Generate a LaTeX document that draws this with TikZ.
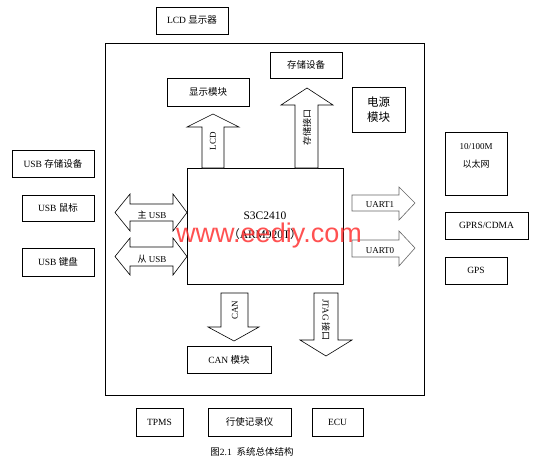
\documentclass[tikz,border=0pt]{standalone}
\usepackage{fontspec}
\setmainfont{Liberation Serif}
\newfontfamily\cjk{Noto Sans CJK SC}
\newfontfamily\wmfont{Liberation Sans}
\begin{document}
\begin{tikzpicture}[x=1pt,y=-1pt,
  box/.style={draw, line width=0.7pt, inner sep=0pt, font=\fontsize{9.5}{11}\selectfont, align=center},
  blk/.style={draw, line width=0.6pt, fill=white},
  gblk/.style={draw=black!60, line width=0.6pt, fill=white},
  lbl/.style={font=\fontsize{9}{10}\selectfont, inner sep=0pt}]
\useasboundingbox (0,0) rectangle (537,465);
\fill[white] (0,0) rectangle (537,465);

% outer frame
\node[box, minimum width=319pt, minimum height=352pt] (outer) at (264.5,219) {};

% boxes
\node[box, minimum width=72pt, minimum height=27pt] (lcd) at (192,20.5) {LCD {\cjk 显示器}};
\node[box, minimum width=72pt, minimum height=26pt] (store) at (306,65) {\cjk 存储设备};
\node[box, minimum width=82pt, minimum height=28pt] (disp) at (208,92) {\cjk 显示模块};
\node[box, minimum width=53pt, minimum height=45pt, font=\fontsize{11.5}{15}\selectfont\cjk] (power) at (378.5,109.5) {电源\\模块};
\node[box, minimum width=156pt, minimum height=116pt, font=\fontsize{11.5}{19}\selectfont] (chip) at (265,226) {S3C2410\\{\cjk （}ARM920T{\cjk ）}};
\node[box, minimum width=82pt, minimum height=27pt] (usbs) at (53,163.5) {USB {\cjk 存储设备}};
\node[box, minimum width=72pt, minimum height=26pt] (usbm) at (58,208) {USB {\cjk 鼠标}};
\node[box, minimum width=72pt, minimum height=28pt] (usbk) at (58,262) {USB {\cjk 键盘}};
\node[box, minimum width=62pt, minimum height=63pt] (eth) at (476,163.5) {};
\node[lbl] (ethA) at (476,147) {10/100M};
\node[lbl] (ethB) at (476,164) {\cjk 以太网};
\node[box, minimum width=83pt, minimum height=27pt] (gprs) at (486.5,225.5) {GPRS/CDMA};
\node[box, minimum width=62pt, minimum height=27pt] (gps) at (476,270.5) {GPS};
\node[box, minimum width=84pt, minimum height=27pt] (can) at (229,359.5) {CAN {\cjk 模块}};
\node[box, minimum width=47pt, minimum height=28pt] (tpms) at (159.5,422) {TPMS};
\node[box, minimum width=83pt, minimum height=28pt] (rec) at (249.5,422) {\cjk 行使记录仪};
\node[box, minimum width=51pt, minimum height=28pt] (ecu) at (337.5,422) {ECU};
\node[lbl, font=\fontsize{9.5}{10}\selectfont] (cap) at (252,452) {{\cjk 图}2.1\ \ {\cjk 系统总体结构}};

% LCD up arrow
\draw[blk] (202,168) -- (202,127) -- (187,127) -- (213,114) -- (239,127) -- (224,127) -- (224,168) -- cycle;
\node[lbl, rotate=90] (lcdl) at (213,141) {LCD};
% storage interface up arrow
\draw[blk] (295,168) -- (295,105) -- (281,105) -- (307,88) -- (333,105) -- (318,105) -- (318,168) -- cycle;
\node[lbl, rotate=90] (stl) at (307,128) {\cjk 存储接口};

% USB double arrows
\draw[blk] (115,212.5) -- (130,194) -- (130,204) -- (173,204) -- (173,194) -- (187,212.5) -- (173,231) -- (173,221) -- (130,221) -- (130,231) -- cycle;
\node[lbl] (musb) at (152,215) {{\cjk 主} USB};
\draw[blk] (115,256.5) -- (130,238) -- (130,247) -- (173,247) -- (173,238) -- (187,256.5) -- (173,275) -- (173,266) -- (130,266) -- (130,275) -- cycle;
\node[lbl] (susb) at (152,259) {{\cjk 从} USB};

% UART arrows
\draw[gblk] (352,195) -- (399,195) -- (399,187) -- (415,203) -- (399,220) -- (399,211) -- (352,211) -- cycle;
\node[lbl] (u1) at (380,205) {UART1};
\draw[gblk] (352,240) -- (399,240) -- (399,231) -- (415,248) -- (399,266) -- (399,257) -- (352,257) -- cycle;
\node[lbl] (u0) at (380,251) {UART0};

% CAN down arrow
\draw[blk] (221,293) -- (248,293) -- (248,327) -- (259,327) -- (234,341) -- (208,327) -- (221,327) -- cycle;
\node[lbl, rotate=90] (canl) at (235,310) {CAN};
% JTAG down arrow
\draw[blk] (314,293) -- (338,293) -- (338,340) -- (352,340) -- (326,356) -- (300,340) -- (314,340) -- cycle;
\node[lbl, rotate=-90] (jtl) at (326,320) {JTAG {\cjk 接口}};

% watermark
\node[inner sep=0pt, text=red!80!white, opacity=0.85, font=\fontsize{27}{27}\selectfont\wmfont] (wm) at (269,236) {www.eediy.com};
\end{tikzpicture}
\end{document}
